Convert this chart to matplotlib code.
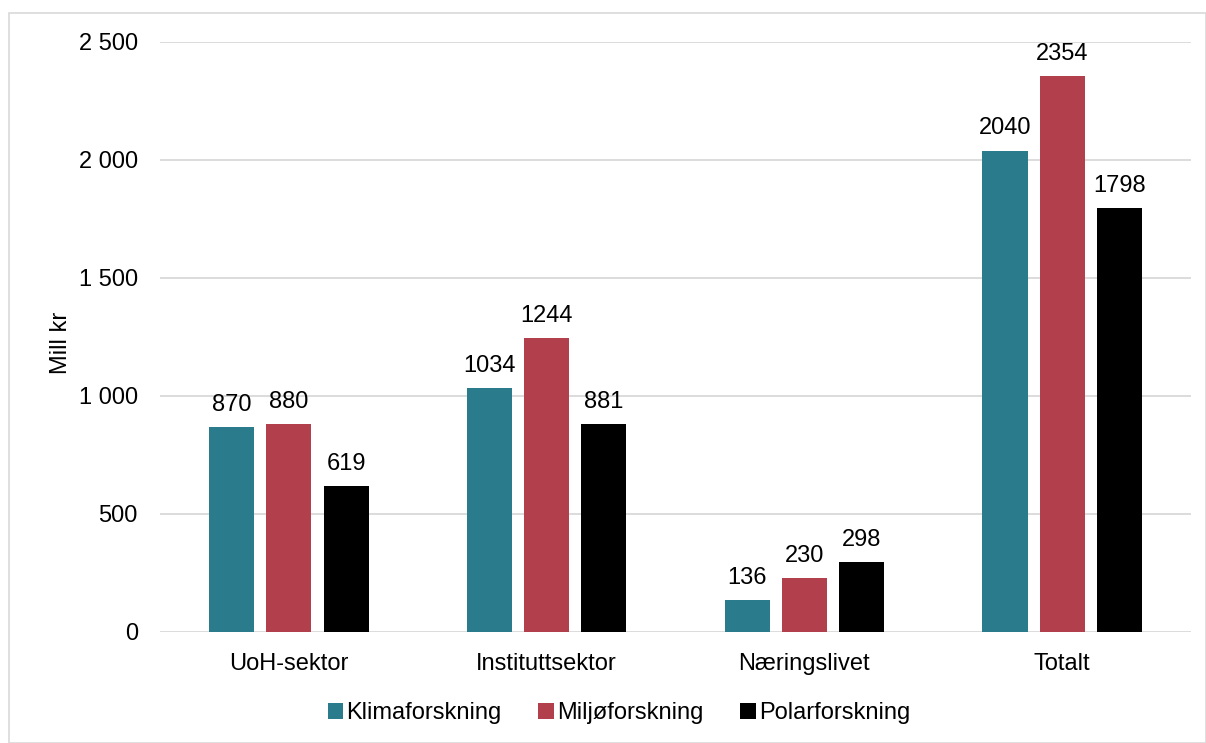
import matplotlib.pyplot as plt
import matplotlib.patches as patches
import numpy as np

plt.rcParams['font.family'] = ['Liberation Sans', 'DejaVu Sans']

categories = ["UoH-sektor", "Instituttsektor", "Næringslivet", "Totalt"]
series = ["Klimaforskning", "Miljøforskning", "Polarforskning"]
klima = [870, 1034, 136, 2040]
miljo = [880, 1244, 230, 2354]
polar = [619, 881, 298, 1798]
colors = ["#2A7B8B", "#B2404C", "#000000"]
fs = 17

fig = plt.figure(figsize=(12.06, 7.43), dpi=100)
ax = fig.add_axes([0.1327, 0.1494, 0.8549, 0.7941])

# light frame round the whole chart
fig.patches.append(patches.Rectangle((9/1206, 0), 1 - 9/1206, 1 - 13/743, transform=fig.transFigure,
                                     fill=False, edgecolor="#D9D9D9", linewidth=1.2))

x = np.arange(len(categories))
width = 0.175
step = 0.222
for i, (vals, name) in enumerate(zip([klima, miljo, polar], series)):
    pos = x + (i - 1) * step
    bars = ax.bar(pos, vals, width, color=colors[i], label=name, zorder=3)
    for b, v in zip(bars, vals):
        ax.annotate(str(v), (b.get_x() + b.get_width() / 2, v), xytext=(0, 8),
                    textcoords="offset points", ha="center", va="bottom", fontsize=fs)

ax.set_xlim(-0.5, 3.5)
ax.set_ylim(0, 2500)
ax.set_yticks(range(0, 2501, 500))
ax.set_yticklabels([f"{t:,}".replace(",", " ") for t in range(0, 2501, 500)])
ax.set_xticks(x)
ax.set_xticklabels(categories)
ax.tick_params(axis="both", length=0, labelsize=fs)
ax.tick_params(axis="y", pad=16)
ax.tick_params(axis="x", pad=15)
ax.grid(axis="y", color="#D9D9D9", linewidth=1.3, zorder=0)
for s in ax.spines.values():
    s.set_visible(False)
ax.set_ylabel("Mill kr", fontsize=fs)
ax.yaxis.set_label_coords(-0.1, 0.5, transform=None)
ax.yaxis.label.set_transform(fig.transFigure)
ax.yaxis.label.set_position((72/1206, 1 - 343/743))

fig.legend(*ax.get_legend_handles_labels(), loc="center", bbox_to_anchor=(619/1206, 1 - 713/743),
           ncol=3, frameon=False, fontsize=fs, handlelength=0.65, handleheight=0.65,
           handletextpad=0.15, columnspacing=1.55)

fig.savefig("out.png", dpi=100)
